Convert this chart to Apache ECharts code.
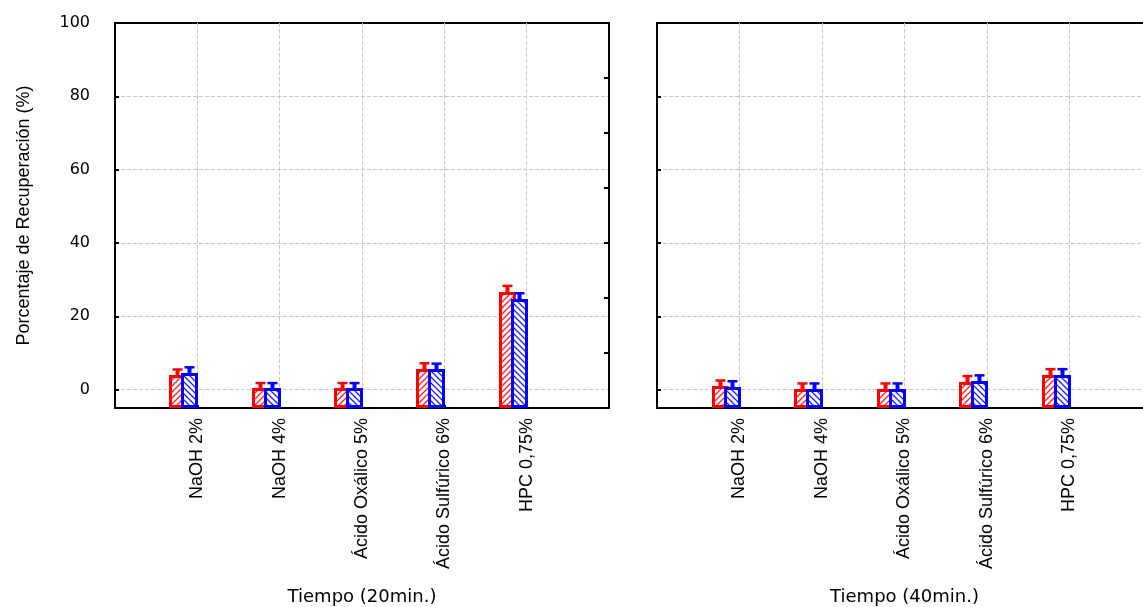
<!DOCTYPE html>
<html><head><meta charset="utf-8">
<script src="https://cdn.jsdelivr.net/npm/echarts@6/dist/echarts.min.js"></script>
<style>html,body{margin:0;padding:0;background:#fff}#c{width:1143px;height:607px}</style>
</head><body><div id="c"></div>
<script>
// ---- data ----
const categories = ['NaOH 2%', 'NaOH 4%', 'Ácido Oxálico 5%', 'Ácido Sulfúrico 6%', 'HPC 0,75%'];
const panelTitles = ['Tiempo (20min.)', 'Tiempo (40min.)'];
const yTitle = 'Porcentaje de Recuperación (%)';
const yTickValues = [0, 20, 40, 60, 80, 100];
const rightTickValues = [10, 25, 40, 55, 70, 85];
const yMin = -5, yMax = 100;
// 20 min
const t20Red = [4.0, 0.4, 0.4, 5.7, 26.6];
const t20RedErr = [1.5, 1.4, 1.4, 1.5, 1.7];
const t20Blue = [4.6, 0.4, 0.4, 5.6, 24.6];
const t20BlueErr = [1.5, 1.4, 1.4, 1.5, 1.7];
// 40 min
const t40Red = [1.0, 0.3, 0.3, 2.2, 4.0];
const t40RedErr = [1.5, 1.4, 1.4, 1.5, 1.6];
const t40Blue = [0.8, 0.3, 0.3, 2.5, 4.0];
const t40BlueErr = [1.5, 1.4, 1.4, 1.4, 1.6];

// ---- styling helpers ----
const NARROW = "'Liberation Sans Narrow', 'Arial Narrow', 'Liberation Sans', sans-serif";
const WIDE = "'DejaVu Sans', sans-serif";
function hatch(color, dir) {
  const n = 6;
  const c = document.createElement('canvas'); c.width = n; c.height = n;
  const g = c.getContext('2d');
  g.fillStyle = '#fff'; g.fillRect(0, 0, n, n);
  g.strokeStyle = color; g.lineWidth = 1.3;
  g.beginPath();
  if (dir > 0) {
    g.moveTo(-1, n + 1); g.lineTo(n + 1, -1);
    g.moveTo(-1, 1); g.lineTo(1, -1);
    g.moveTo(n - 1, n + 1); g.lineTo(n + 1, n - 1);
  } else {
    g.moveTo(-1, -1); g.lineTo(n + 1, n + 1);
    g.moveTo(n - 1, -1); g.lineTo(n + 1, 1);
    g.moveTo(-1, n - 1); g.lineTo(1, n + 1);
  }
  g.stroke();
  return c;
}
const redPat = hatch('#ff2020', 1);
const bluePat = hatch('#2020ff', -1);

function makeRender(offsetPx, widthPx, color, pat) {
  return function (params, api) {
    const x = api.value(0), v = api.value(1), e = api.value(2);
    const top = api.coord([x, v]);
    const bot = api.coord([x, yMin]);
    const cap = api.coord([x, v + e]);
    const k = api.size([1, 0])[0] / 82.5;
    const left = Math.round(top[0] + offsetPx * k);
    const w = Math.round(widthPx * k);
    const ty = Math.round(top[1]);
    const cx = left + w / 2;
    const lw = 3;
    return {
      type: 'group',
      children: [
        { type: 'rect', shape: { x: left + lw / 2, y: ty + lw / 2, width: w - lw, height: bot[1] - ty - lw },
          style: { fill: { type: 'pattern', image: pat, repeat: 'repeat' }, stroke: color, lineWidth: lw } },
        { type: 'line', shape: { x1: cx, y1: ty, x2: cx, y2: cap[1] }, style: { stroke: color, lineWidth: 4 } },
        { type: 'line', shape: { x1: cx - 5, y1: cap[1], x2: cx + 5, y2: cap[1] }, style: { stroke: color, lineWidth: 2.5 } }
      ]
    };
  };
}
function toData(vals, errs) { return categories.map((c, i) => [c, vals[i], errs[i]]); }

const catAxisData = [''].concat(categories, ['']);
const gridLine = { show: true, lineStyle: { color: '#c8c8c8', width: 1, type: [4, 2] } };
const innerTicks = yTickValues.filter(v => v < yMax);

function xAxisFor(i) {
  return {
    type: 'category', gridIndex: i, data: catAxisData, boundaryGap: false,
    axisLine: { onZero: false, lineStyle: { color: '#000', width: 2 } },
    axisTick: { inside: true, length: 3, lineStyle: { color: '#000', width: 2 } },
    axisLabel: { interval: 0, rotate: 90, margin: 10, fontFamily: NARROW, fontSize: 18, color: '#000' },
    splitLine: gridLine,
    name: panelTitles[i], nameLocation: 'middle', nameGap: 180,
    nameTextStyle: { fontFamily: WIDE, fontSize: 18, color: '#000' }
  };
}

const option = {
  animation: false,
  backgroundColor: '#fff',
  grid: [
    { left: 115, top: 23, width: 494, height: 385, outerBoundsMode: 'none', containLabel: false, show: true, borderColor: '#000', borderWidth: 2, backgroundColor: '#fff' },
    { left: 657, top: 23, width: 495, height: 385, outerBoundsMode: 'none', containLabel: false, show: true, borderColor: '#000', borderWidth: 2, backgroundColor: '#fff' }
  ],
  xAxis: [xAxisFor(0), xAxisFor(1)],
  yAxis: [
    {
      type: 'value', gridIndex: 0, min: yMin, max: yMax,
      axisLine: { show: true, lineStyle: { color: '#000', width: 2 } },
      axisTick: { show: true, inside: true, length: 4, customValues: innerTicks, lineStyle: { color: '#000', width: 2 } },
      axisLabel: { customValues: yTickValues, margin: 25, fontFamily: WIDE, fontSize: 16, color: '#000' },
      splitLine: gridLine,
      name: yTitle, nameLocation: 'middle', nameGap: 82,
      nameTextStyle: { fontFamily: NARROW, fontSize: 18, color: '#000' }
    },
    {
      type: 'value', gridIndex: 0, position: 'right', min: yMin, max: yMax,
      axisLine: { show: true, lineStyle: { color: '#000', width: 2 } },
      axisTick: { show: true, inside: true, length: 5, customValues: rightTickValues, lineStyle: { color: '#000', width: 2 } },
      axisLabel: { show: false },
      splitLine: { show: false }
    },
    {
      type: 'value', gridIndex: 1, min: yMin, max: yMax,
      axisLine: { show: true, lineStyle: { color: '#000', width: 2 } },
      axisTick: { show: true, inside: true, length: 4, customValues: innerTicks, lineStyle: { color: '#000', width: 2 } },
      axisLabel: { show: false, customValues: yTickValues },
      splitLine: gridLine
    }
  ],
  series: [
    { type: 'custom', name: '20 rojo', xAxisIndex: 0, yAxisIndex: 0, data: toData(t20Red, t20RedErr), renderItem: makeRender(-28, 17, '#ff0000', redPat), z: 3 },
    { type: 'custom', name: '20 azul', xAxisIndex: 0, yAxisIndex: 0, data: toData(t20Blue, t20BlueErr), renderItem: makeRender(-16, 17, '#0000ff', bluePat), z: 4 },
    { type: 'custom', name: '40 rojo', xAxisIndex: 1, yAxisIndex: 2, data: toData(t40Red, t40RedErr), renderItem: makeRender(-28, 17, '#ff0000', redPat), z: 3 },
    { type: 'custom', name: '40 azul', xAxisIndex: 1, yAxisIndex: 2, data: toData(t40Blue, t40BlueErr), renderItem: makeRender(-16, 17, '#0000ff', bluePat), z: 4 }
  ]
};
const chart = echarts.init(document.getElementById('c'), null, { renderer: 'canvas' });
chart.setOption(option);
</script>
</body></html>
